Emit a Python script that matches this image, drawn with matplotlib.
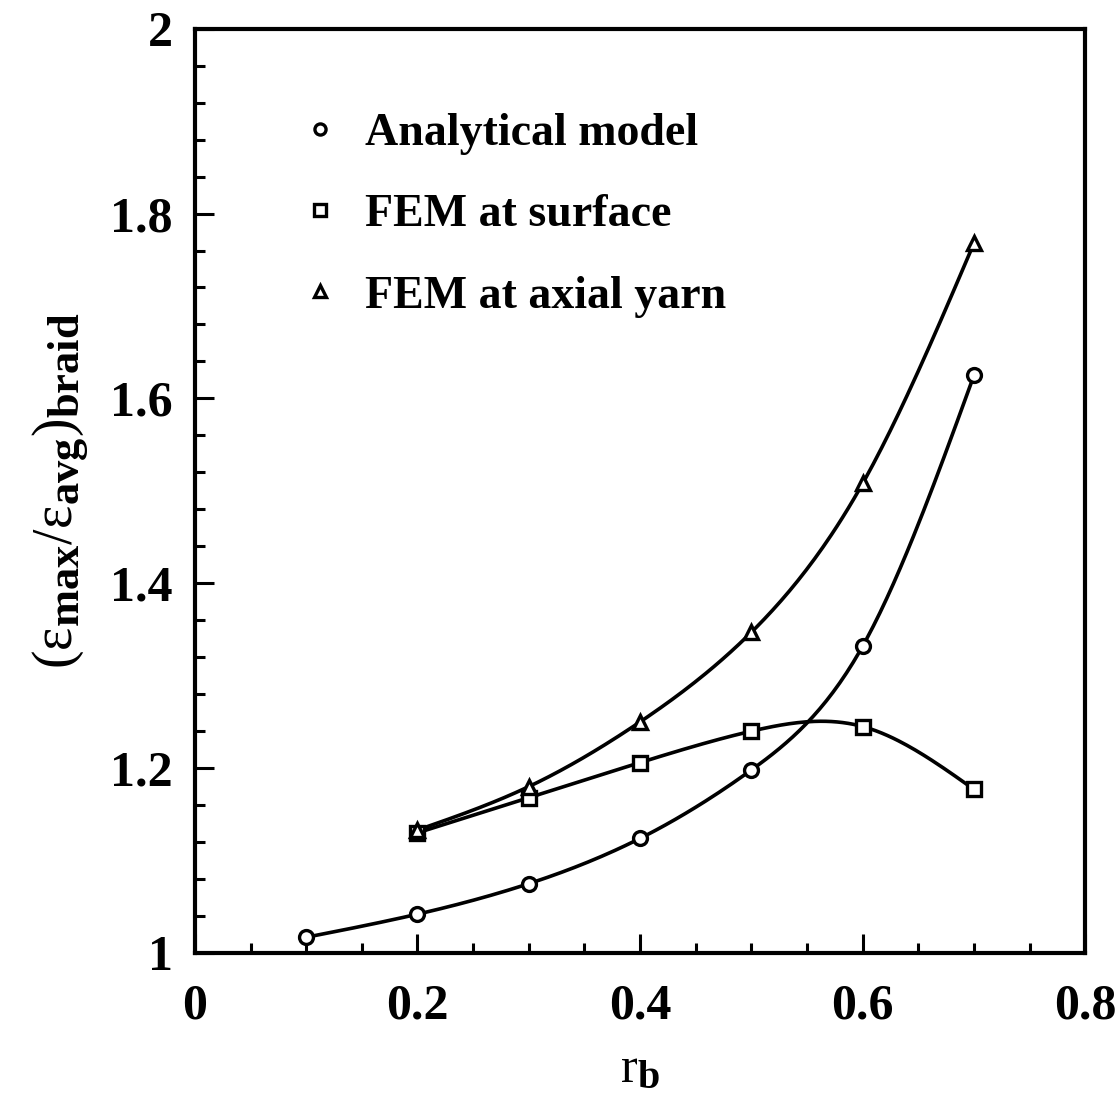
import numpy as np
import matplotlib
matplotlib.use("Agg")
import matplotlib.pyplot as plt
import matplotlib._mathtext as mathtext_internals
from matplotlib.ticker import MultipleLocator

# ==============================
# DATA
# ==============================
rb_analytical = [0.1, 0.2, 0.3, 0.4, 0.5, 0.6, 0.7]
analytical = [1.017, 1.042, 1.075, 1.124, 1.198, 1.332, 1.625]

rb_fem = [0.2, 0.3, 0.4, 0.5, 0.6, 0.7]
fem_surface = [1.130, 1.168, 1.206, 1.240, 1.245, 1.177]
fem_axial = [1.133, 1.180, 1.250, 1.347, 1.508, 1.768]

labels = ["Analytical model", "FEM at surface", "FEM at axial yarn"]
markers = ["o", "s", "^"]

plt.rcParams["font.family"] = ["Liberation Serif", "DejaVu Serif"]
plt.rcParams["font.weight"] = "bold"
plt.rcParams["mathtext.fontset"] = "custom"
plt.rcParams["mathtext.rm"] = "Liberation Serif:bold"
plt.rcParams["mathtext.it"] = "Liberation Serif:bold"
plt.rcParams["mathtext.bf"] = "Liberation Serif:bold"
# subscripts in the original are only a little smaller than the main text
mathtext_internals.SHRINK_FACTOR = 0.8


def natural_spline(x, y, n=200):
    # natural cubic spline through the points, numpy only
    x = np.asarray(x, float)
    y = np.asarray(y, float)
    k = len(x)
    h = np.diff(x)
    A = np.zeros((k, k))
    b = np.zeros(k)
    A[0, 0] = A[-1, -1] = 1.0
    for i in range(1, k - 1):
        A[i, i - 1] = h[i - 1]
        A[i, i] = 2 * (h[i - 1] + h[i])
        A[i, i + 1] = h[i]
        b[i] = 3 * ((y[i + 1] - y[i]) / h[i] - (y[i] - y[i - 1]) / h[i - 1])
    c = np.linalg.solve(A, b)
    xs = np.linspace(x[0], x[-1], n)
    ys = np.empty_like(xs)
    for j, xv in enumerate(xs):
        i = min(np.searchsorted(x, xv, side="right") - 1, k - 2)
        dx = xv - x[i]
        bi = (y[i + 1] - y[i]) / h[i] - h[i] * (2 * c[i] + c[i + 1]) / 3
        di = (c[i + 1] - c[i]) / (3 * h[i])
        ys[j] = y[i] + bi * dx + c[i] * dx ** 2 + di * dx ** 3
    return xs, ys


fig = plt.figure(figsize=(11.2, 11.03), dpi=100)
ax = fig.add_axes([0.174, 0.136, 0.795, 0.838])

series = [(rb_analytical, analytical), (rb_fem, fem_surface), (rb_fem, fem_axial)]
for (xv, yv), lab, mk in zip(series, labels, markers):
    xs, ys = natural_spline(xv, yv)
    ax.plot(xs, ys, color="black", linewidth=2.6, zorder=2)
    ax.plot(xv, yv, linestyle="none", marker=mk, markersize=10,
            markerfacecolor="white", markeredgecolor="black",
            markeredgewidth=2.4, label=lab, zorder=3)

ax.set_xlim(0, 0.8)
ax.set_ylim(1, 2)
ax.xaxis.set_major_locator(MultipleLocator(0.2))
ax.xaxis.set_minor_locator(MultipleLocator(0.05))
ax.yaxis.set_major_locator(MultipleLocator(0.2))
ax.yaxis.set_minor_locator(MultipleLocator(0.04))
ax.xaxis.set_major_formatter(plt.FuncFormatter(lambda v, p: f"{v:g}"))
ax.yaxis.set_major_formatter(plt.FuncFormatter(lambda v, p: f"{v:g}"))

for s in ax.spines.values():
    s.set_linewidth(3)
ax.tick_params(which="both", direction="in", top=False, right=False,
               width=2.2, labelsize=36)
ax.tick_params(which="major", length=14)
ax.tick_params(which="minor", length=7)
ax.tick_params(axis="x", pad=22)
ax.tick_params(axis="y", pad=16)

ax.set_xlabel(r"r$_{\rm b}$", fontsize=36, labelpad=12)
ax.set_ylabel(r"(ε$_{\rm max}$/ε$_{\rm avg}$)$_{\rm braid}$", fontsize=40, labelpad=14)

ax.legend(loc="upper left", bbox_to_anchor=(0.083, 0.953), frameon=False,
          fontsize=33, handlelength=0.45, handletextpad=0.75,
          labelspacing=0.85, markerscale=0.8)

fig.savefig("out.png", dpi=100)
